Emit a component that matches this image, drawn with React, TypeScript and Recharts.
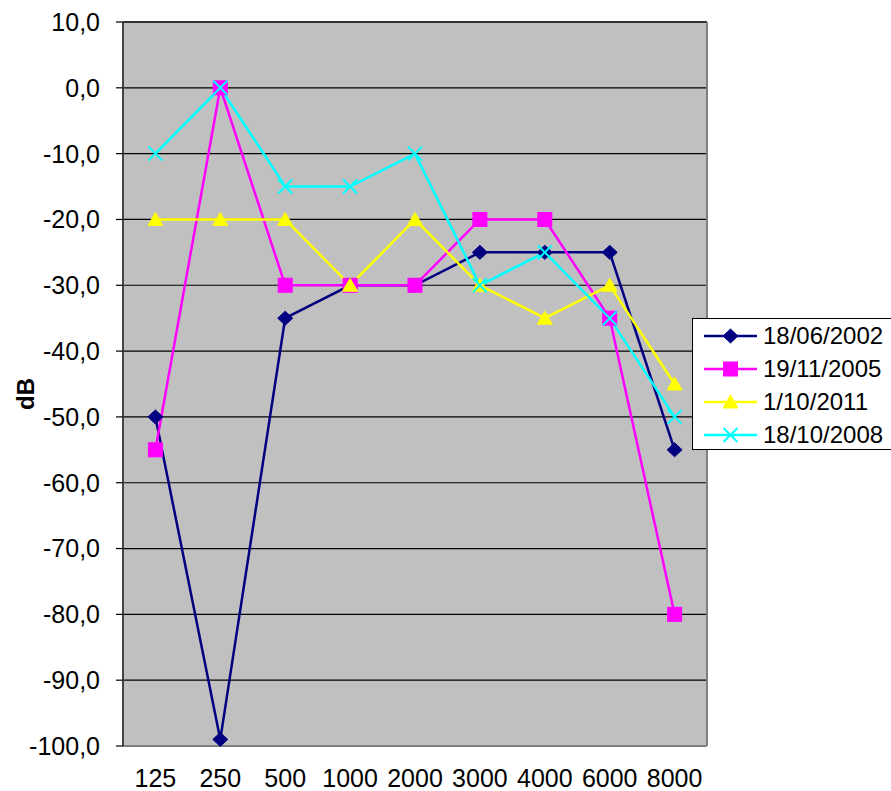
import React from 'react';
import { LineChart, Line, XAxis, YAxis, CartesianGrid, Legend } from 'recharts';

const freqs = ['125', '250', '500', '1000', '2000', '3000', '4000', '6000', '8000'];
const s2002 = [-50, -99, -35, -30, -30, -25, -25, -25, -55];
const s2005 = [-55, 0, -30, -30, -30, -20, -20, -35, -80];
const s2011 = [-20, -20, -20, -30, -20, -30, -35, -30, -45];
const s2008 = [-10, 0, -15, -15, -10, -30, -25, -35, -50];
const yTicks = [10, 0, -10, -20, -30, -40, -50, -60, -70, -80, -90, -100];
const topTicks = [0, 1, 2, 3, 4, 5, 6, 7, 8, 9];

const series = [
  { key: 'd2002', name: '18/06/2002', color: '#000080', shape: 'diamond', values: s2002 },
  { key: 'd2005', name: '19/11/2005', color: '#FF00FF', shape: 'square', values: s2005 },
  { key: 'd2011', name: '1/10/2011', color: '#FFFF00', shape: 'triangle', values: s2011 },
  { key: 'd2008', name: '18/10/2008', color: '#00FFFF', shape: 'cross', values: s2008 },
];

const data = freqs.map((f, i) => {
  const row: any = { f };
  series.forEach((s) => { row[s.key] = s.values[i]; });
  return row;
});

const FONT = '"Liberation Sans", Arial, sans-serif';

const marker = (shape: string, cx: number, cy: number, color: string, k?: any) => {
  if (shape === 'diamond') {
    return <polygon key={k} points={`${cx},${cy - 7} ${cx + 7.5},${cy} ${cx},${cy + 7} ${cx - 7.5},${cy}`} fill={color} stroke={color} />;
  }
  if (shape === 'square') {
    return <rect key={k} x={cx - 7} y={cy - 7} width={14} height={14} fill={color} stroke={color} />;
  }
  if (shape === 'triangle') {
    return <polygon key={k} points={`${cx},${cy - 7} ${cx + 7.5},${cy + 6} ${cx - 7.5},${cy + 6}`} fill={color} stroke={color} />;
  }
  return (
    <g key={k}>
      <line x1={cx - 7} y1={cy - 7} x2={cx + 7} y2={cy + 7} stroke={color} strokeWidth={2} />
      <line x1={cx - 7} y1={cy + 7} x2={cx + 7} y2={cy - 7} stroke={color} strokeWidth={2} />
    </g>
  );
};

const fmt = (v: number) => v.toFixed(1).replace('.', ',');

const LegendBox = () => (
  <div style={{ width: 215, height: 130, background: '#fff', border: '1px solid #000', fontFamily: FONT, fontSize: 24, color: '#000' }}>
    {series.map((s) => (
      <div key={s.key} style={{ display: 'flex', alignItems: 'center', height: 33, marginTop: 0 }}>
        <svg width={70} height={33} style={{ display: 'block' }}>
          <line x1={11} y1={17} x2={64} y2={17} stroke={s.color} strokeWidth={2.5} />
          {marker(s.shape, 37.5, 17, s.color)}
        </svg>
        <span style={{ lineHeight: '33px', whiteSpace: 'nowrap' }}>{s.name}</span>
      </div>
    ))}
  </div>
);

const App: React.FC = () => {
  return (
    <div style={{ position: 'absolute', left: 0, top: 0, width: 891, height: 791, background: '#fff' }}>
      <LineChart width={891} height={791} data={data} margin={{ top: 0, right: 0, bottom: 0, left: 0 }}>
        <CartesianGrid xAxisId="cat" yAxisId="left" vertical={false} stroke="#000" strokeWidth={1.2} fill="#C0C0C0" fillOpacity={1} />
        <XAxis
          xAxisId="cat"
          dataKey="f"
          height={45}
          padding={{ left: 32.4, right: 32.4 }}
          tickLine={false}
          tickSize={0}
          tickMargin={23}
          axisLine={{ stroke: '#808080', strokeWidth: 2 }}
          tick={{ fontSize: 25, fill: '#000', fontFamily: FONT }}
          interval={0}
        />
        <XAxis
          xAxisId="top"
          type="number"
          orientation="top"
          domain={[0, 9]}
          ticks={topTicks}
          allowDataOverflow
          height={22}
          tick={false}
          tickSize={7}
          tickLine={{ stroke: '#000', strokeWidth: 1.5 }}
          axisLine={{ stroke: '#333', strokeWidth: 2 }}
        />
        <YAxis
          yAxisId="left"
          width={123}
          domain={[-100, 10]}
          ticks={yTicks}
          interval={0}
          tickFormatter={fmt}
          tickSize={7}
          tickMargin={16}
          tickLine={{ stroke: '#000', strokeWidth: 1.2 }}
          axisLine={{ stroke: '#444', strokeWidth: 2 }}
          tick={{ fontSize: 25, fill: '#000', fontFamily: FONT }}
          label={{
            content: (props: any) => {
              const vb = props.viewBox || { x: 0, y: 22, width: 123, height: 724 };
              const x = vb.x + 25;
              const y = vb.y + vb.height / 2 + 10;
              return (
                <text x={x} y={y} transform={`rotate(-90 ${x} ${y})`} textAnchor="middle" dominantBaseline="central" fontFamily={FONT} fontSize={24} fontWeight="bold" fill="#000">
                  dB
                </text>
              );
            },
          }}
        />
        <YAxis
          yAxisId="right"
          orientation="right"
          width={184}
          domain={[-100, 10]}
          allowDataOverflow
          tick={false}
          tickLine={false}
          axisLine={{ stroke: '#808080', strokeWidth: 2 }}
        />
        {series.map((s) => (
          <Line
            key={s.key}
            xAxisId="cat"
            yAxisId="left"
            type="linear"
            dataKey={s.key}
            name={s.name}
            stroke={s.color}
            strokeWidth={2.5}
            isAnimationActive={false}
            dot={(p: any) => marker(s.shape, p.cx, p.cy, s.color, `${s.key}-${p.index}`)}
            activeDot={false}
          />
        ))}
        <Legend
          layout="horizontal"
          align="center"
          verticalAlign="middle"
          wrapperStyle={{ left: 692, top: 318, width: 217, height: 132 }}
          content={() => <LegendBox />}
        />
      </LineChart>
    </div>
  );
};

export default App;
